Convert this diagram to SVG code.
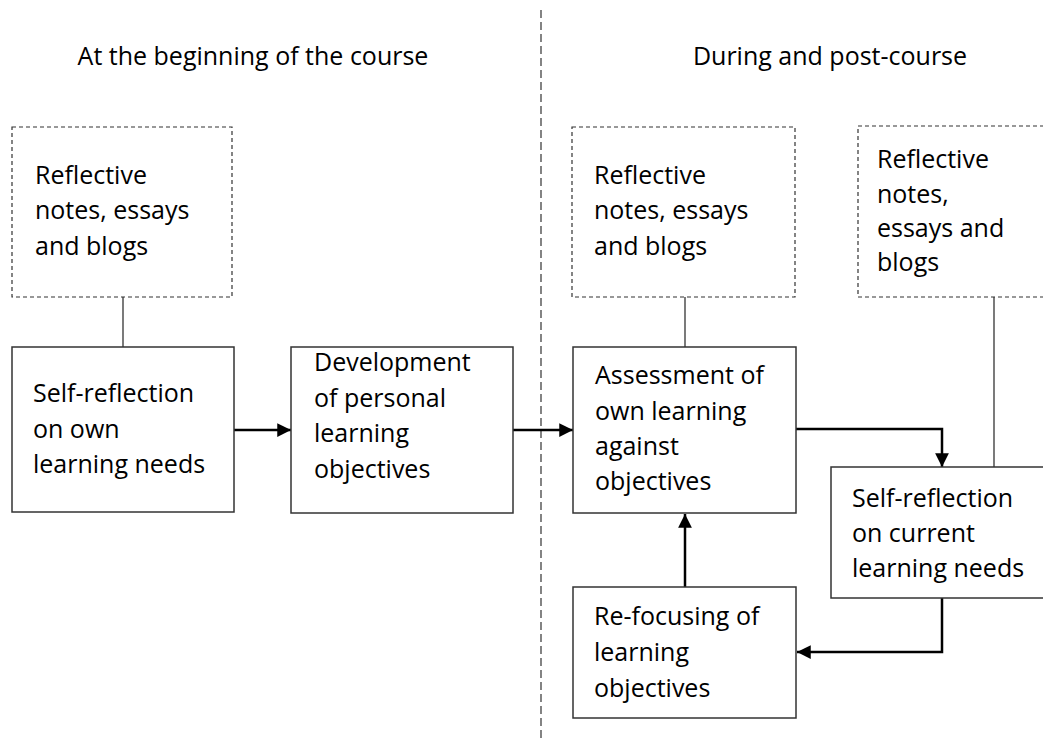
<svg xmlns="http://www.w3.org/2000/svg" width="1043" height="740" viewBox="0 0 1043 740">
<defs>
<marker id="ah" viewBox="0 0 10 10" refX="10" refY="5" markerWidth="6" markerHeight="5.5" markerUnits="strokeWidth" orient="auto"><path d="M0,0 L10,5 L0,10 z" fill="#000"/></marker>
</defs>
<style>
text{font-family:"Open Sans","Liberation Sans",sans-serif;font-size:25px;fill:#000}
.box{fill:#fff;stroke:#333;stroke-width:1.5}
.dash{fill:#fff;stroke:#333;stroke-width:1.2;stroke-dasharray:4 3}
.link{stroke:#333;stroke-width:1.3;fill:none}
.arr{stroke:#000;stroke-width:2.5;fill:none;marker-end:url(#ah)}
</style>
<rect width="1043" height="740" fill="#fff"/>
<line x1="541" y1="10" x2="541" y2="740" stroke="#333" stroke-width="1.2" stroke-dasharray="8 4"/>
<text x="253" y="65" text-anchor="middle">At the beginning of the course</text>
<text x="830" y="65" text-anchor="middle">During and post-course</text>
<g id="connectors">
<line class="link" x1="123" y1="297" x2="123" y2="347"/>
<line class="link" x1="685" y1="297" x2="685" y2="347"/>
<line class="link" x1="994" y1="297" x2="994" y2="467"/>
<line class="arr" x1="234" y1="430" x2="291" y2="430"/>
<line class="arr" x1="513" y1="430" x2="573" y2="430"/>
<polyline class="arr" points="796,429 942,429 942,467"/>
<line class="arr" x1="685" y1="587" x2="685" y2="514"/>
<polyline class="arr" points="942,598 942,652 797,652"/>
</g>
<g id="notes1"><rect class="dash" x="12" y="127" width="220" height="170"/>
<text x="35" y="184">Reflective</text><text x="35" y="219">notes, essays</text><text x="35" y="255">and blogs</text></g>
<g id="notes2"><rect class="dash" x="572" y="127" width="223" height="170"/>
<text x="594" y="184">Reflective</text><text x="594" y="219">notes, essays</text><text x="594" y="255">and blogs</text></g>
<g id="notes3"><rect class="dash" x="858" y="126" width="200" height="171"/>
<text x="877" y="168">Reflective</text><text x="877" y="203">notes,</text><text x="877" y="237">essays and</text><text x="877" y="271">blogs</text></g>
<g id="selfref1"><rect class="box" x="12" y="347" width="222" height="165"/>
<text x="33" y="402">Self-reflection</text><text x="33" y="438">on own</text><text x="33" y="473">learning needs</text></g>
<g id="develop"><rect class="box" x="291" y="347" width="222" height="166"/>
<text x="314" y="371">Development</text><text x="314" y="407">of personal</text><text x="314" y="442">learning</text><text x="314" y="478">objectives</text></g>
<g id="assess"><rect class="box" x="573" y="347" width="223" height="166"/>
<text x="595" y="384">Assessment of</text><text x="595" y="420">own learning</text><text x="595" y="455">against</text><text x="595" y="490">objectives</text></g>
<g id="selfref2"><rect class="box" x="831" y="467" width="220" height="131"/>
<text x="852" y="507">Self-reflection</text><text x="852" y="542">on current</text><text x="852" y="577">learning needs</text></g>
<g id="refocus"><rect class="box" x="573" y="587" width="223" height="131"/>
<text x="594" y="625">Re-focusing of</text><text x="594" y="661">learning</text><text x="594" y="697">objectives</text></g>
</svg>
